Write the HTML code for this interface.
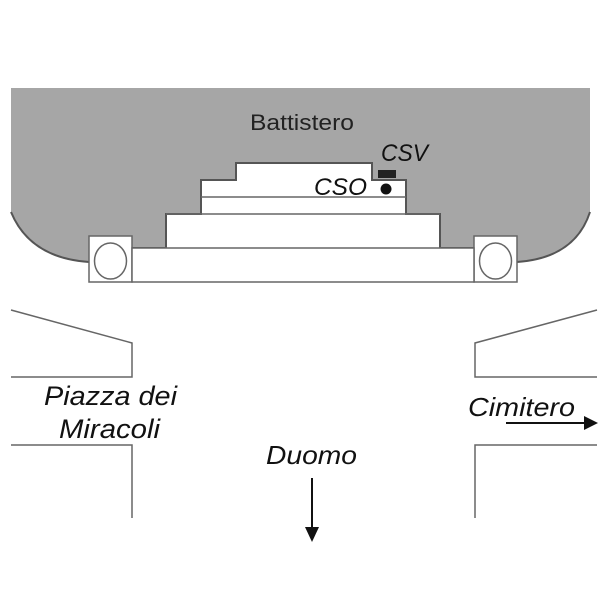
<!DOCTYPE html>
<html><head><meta charset="utf-8"><style>body{margin:0;background:#fff}svg{display:block}</style></head><body>
<svg width="600" height="600" viewBox="0 0 600 600" xmlns="http://www.w3.org/2000/svg" font-family="Liberation Sans, sans-serif">
<path d="M11,88 H590 V212 Q575,258 517,262 L89,262 Q30,258 11,212 Z" fill="#a6a6a6"/>
<path d="M11,212 Q30,258 89,262 M590,212 Q575,258 517,262" fill="none" stroke="#555" stroke-width="2"/>
<path d="M132,248 H166 V214 H201 V180 H236 V163 H372 V180 H406 V214 H440 V248 H474" fill="#fff" stroke="#555" stroke-width="2"/>
<g fill="none" stroke="#666" stroke-width="1.5">
<rect x="89" y="236" width="43" height="46" fill="#fff"/>
<rect x="474" y="236" width="43" height="46" fill="#fff"/>
<rect x="132" y="248" width="342" height="34" fill="#fff"/>
<line x1="201" y1="197" x2="406" y2="197"/>
<line x1="166" y1="214" x2="440" y2="214"/>
<ellipse cx="110.5" cy="261" rx="16" ry="18"/>
<ellipse cx="495.5" cy="261" rx="16" ry="18"/>
<path d="M11,310 L132,343 V377 H11 M11,445 H132 V518 M597,310 L475,343 V377 H597 M597,445 H475 V518"/>
</g>
<rect x="378" y="170" width="18" height="8" fill="#222"/>
<circle cx="386" cy="189" r="5.5" fill="#111"/>
<text x="250" y="130" font-size="22" fill="#222" textLength="104" lengthAdjust="spacingAndGlyphs">Battistero</text>
<g font-style="italic" font-size="24" fill="#111">
<text x="381" y="161" textLength="47" lengthAdjust="spacingAndGlyphs">CSV</text>
<text x="314" y="195" textLength="53" lengthAdjust="spacingAndGlyphs">CSO</text>
<text x="44" y="405" font-size="27" textLength="133" lengthAdjust="spacingAndGlyphs">Piazza dei</text>
<text x="59" y="438" font-size="27" textLength="101" lengthAdjust="spacingAndGlyphs">Miracoli</text>
<text x="468" y="416" font-size="26" textLength="107" lengthAdjust="spacingAndGlyphs">Cimitero</text>
<text x="266" y="464" font-size="26" textLength="91" lengthAdjust="spacingAndGlyphs">Duomo</text>
</g>
<line x1="506" y1="423" x2="585" y2="423" stroke="#111" stroke-width="2"/>
<path d="M598,423 L584,416 V430 Z" fill="#111"/>
<line x1="312" y1="478" x2="312" y2="528" stroke="#111" stroke-width="2"/>
<path d="M312,542 L305,527 H319 Z" fill="#111"/>
</svg>
</body></html>
